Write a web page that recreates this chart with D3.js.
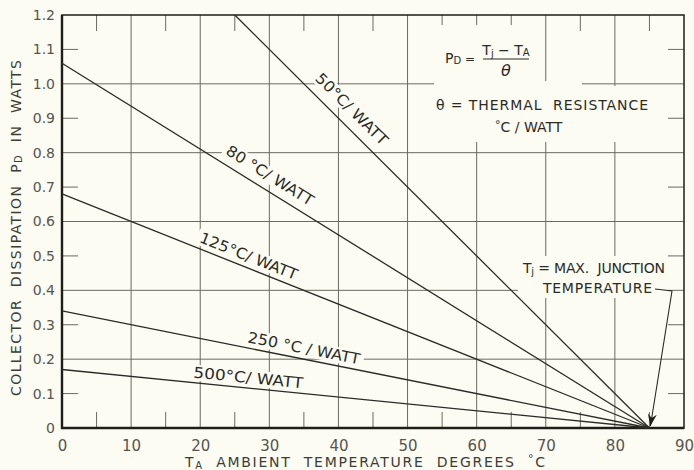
<!DOCTYPE html>
<html>
<head>
<meta charset="utf-8">
<script src="https://cdn.jsdelivr.net/npm/d3@7/dist/d3.min.js"></script>
<style>
  html, body { margin: 0; padding: 0; background: #fcfcf3; }
  svg { display: block; font-family: "DejaVu Sans", sans-serif; }
  svg text { white-space: pre; }
</style>
</head>
<body>
<script>
// Chart values
const ratings = ['50', '80', '125', '250', '500'];          // thermal resistance, °C / watt
const startTemp = [25, 0, 0, 0, 0];                           // Ta where each line enters the grid
const startPower = [1.2, 1.06, 0.68, 0.34, 0.17];             // Pd at that point, watts
const endTemp = [85, 85, 85, 85, 85];                         // max junction temperature
const endPower = [0, 0, 0, 0, 0];
const lineLabels = ['50°C/ WATT', '80 °C/ WATT', '125°C/ WATT', '250 °C / WATT', '500°C/ WATT'];

const xTicks = [0, 10, 20, 30, 40, 50, 60, 70, 80, 90];
const yTicks = [0, 0.1, 0.2, 0.3, 0.4, 0.5, 0.6, 0.7, 0.8, 0.9, 1.0, 1.1, 1.2];
const yTickLabels = ['0', '0.1', '0.2', '0.3', '0.4', '0.5', '0.6', '0.7', '0.8', '0.9', '1.0', '1.1', '1.2'];

// label placement along each line (layout only)
const labelAt = [40.3, 29.0, 26.4, 34.7, 26.8];
const labelOffset = [16, 14.5, 11.5, 11, 10.5];
const labelLength = [95, 100, 104, 114, 110];

const paper = '#fcfcf3';
const ink = '#2b2b25';
const gridInk = '#6a6a60';

const width = 694, height = 470;
const svg = d3.select('body').append('svg')
    .attr('width', width)
    .attr('height', height);

svg.append('rect').attr('width', width).attr('height', height).attr('fill', paper);

const x = d3.scaleLinear().domain([0, 90]).range([62, 684]);
const y = d3.scaleLinear().domain([0, 1.2]).range([428, 15]);

// grid: full lines at major values, short ticks at the in-between ones
const grid = svg.append('g').attr('stroke', gridInk).attr('stroke-width', 1);

grid.selectAll('.vgrid')
    .data(xTicks.filter(d => d > 0 && d < 90))
    .enter().append('line')
    .attr('x1', d => x(d)).attr('x2', d => x(d))
    .attr('y1', y(1.2)).attr('y2', y(0));

grid.selectAll('.hgrid')
    .data([0.2, 0.4, 0.6, 0.8, 1.0])
    .enter().append('line')
    .attr('x1', x(0)).attr('x2', x(90))
    .attr('y1', d => y(d)).attr('y2', d => y(d));

const halfX = xTicks.slice(0, -1).map(d => d + 5);
grid.selectAll('.xbot')
    .data(halfX)
    .enter().append('line')
    .attr('x1', d => x(d)).attr('x2', d => x(d))
    .attr('y1', y(0)).attr('y2', y(0) - 16);
grid.selectAll('.xtop')
    .data(halfX)
    .enter().append('line')
    .attr('x1', d => x(d)).attr('x2', d => x(d))
    .attr('y1', y(1.2)).attr('y2', y(1.2) + 16);

const oddY = [0.1, 0.3, 0.5, 0.7, 0.9, 1.1];
grid.selectAll('.yleft')
    .data(oddY)
    .enter().append('line')
    .attr('x1', x(0)).attr('x2', x(0) + 16)
    .attr('y1', d => y(d)).attr('y2', d => y(d));
grid.selectAll('.yright')
    .data(oddY)
    .enter().append('line')
    .attr('x1', x(90)).attr('x2', x(90) - 16)
    .attr('y1', d => y(d)).attr('y2', d => y(d));

// blank paper behind the lettering, as on the drawn chart
const blanks = svg.append('g').attr('fill', paper);
blanks.append('rect').attr('x', 434).attr('y', 25).attr('width', 110).attr('height', 62);
blanks.append('rect').attr('x', 430).attr('y', 86).attr('width', 232).attr('height', 56);
blanks.append('rect').attr('x', 544).attr('y', 81).attr('width', 38).attr('height', 6);
blanks.append('rect').attr('x', 518).attr('y', 256).attr('width', 150).attr('height', 42);

// frame
svg.append('rect')
    .attr('x', x(0)).attr('y', y(1.2))
    .attr('width', x(90) - x(0)).attr('height', y(0) - y(1.2))
    .attr('fill', 'none').attr('stroke', ink).attr('stroke-width', 1.6);
svg.append('path')
    .attr('d', `M${x(0)},${y(1.2)}V${y(0)}H${x(90)}`)
    .attr('fill', 'none').attr('stroke', '#1e1e1a').attr('stroke-width', 2.4);

// line labels with a paper patch behind them
const series = ratings.map((r, i) => ({
    rating: r,
    p0: [startTemp[i], startPower[i]],
    p1: [endTemp[i], endPower[i]],
    label: lineLabels[i],
    at: labelAt[i],
    offset: labelOffset[i],
    len: labelLength[i]
}));

series.forEach(s => {
    const dx = x(s.p1[0]) - x(s.p0[0]);
    const dy = y(s.p1[1]) - y(s.p0[1]);
    const angle = Math.atan2(dy, dx) * 180 / Math.PI;
    const t = (s.at - s.p0[0]) / (s.p1[0] - s.p0[0]);
    const pd = s.p0[1] + t * (s.p1[1] - s.p0[1]);

    const g = svg.append('g')
        .attr('transform', `translate(${x(s.at)},${y(pd)}) rotate(${angle})`);
    const text = g.append('text')
        .attr('x', 0).attr('y', -s.offset)
        .attr('dy', '0.36em')
        .attr('text-anchor', 'middle')
        .attr('font-size', 15)
        .attr('fill', ink)
        .attr('textLength', s.len)
        .attr('lengthAdjust', 'spacingAndGlyphs')
        .text(s.label);
    const bb = text.node().getBBox();
    g.insert('rect', 'text')
        .attr('x', bb.x - 3).attr('y', bb.y + 1)
        .attr('width', bb.width + 6).attr('height', bb.height - 2)
        .attr('fill', paper);
});

// the rating lines
svg.append('g')
    .selectAll('line')
    .data(series)
    .enter().append('line')
    .attr('x1', d => x(d.p0[0])).attr('y1', d => y(d.p0[1]))
    .attr('x2', d => x(d.p1[0])).attr('y2', d => y(d.p1[1]))
    .attr('stroke', ink)
    .attr('stroke-width', 1.3);

// tick labels
const xAxis = svg.append('g')
    .attr('transform', `translate(0,${y(0)})`)
    .call(d3.axisBottom(x).tickValues(xTicks).tickSize(0).tickPadding(12));
xAxis.select('.domain').remove();
xAxis.selectAll('text')
    .attr('font-family', '"DejaVu Sans", sans-serif')
    .attr('font-size', 15)
    .attr('fill', '#55554d');

const yAxis = svg.append('g')
    .attr('transform', `translate(${x(0)},0)`)
    .call(d3.axisLeft(y).tickValues(yTicks).tickFormat((d, i) => yTickLabels[i]).tickSize(0).tickPadding(7));
yAxis.select('.domain').remove();
yAxis.selectAll('text')
    .attr('font-family', '"DejaVu Sans", sans-serif')
    .attr('font-size', 14)
    .attr('fill', '#55554d');

// axis titles
const xTitle = svg.append('text')
    .attr('x', 185).attr('y', 467)
    .attr('font-size', 14)
    .attr('fill', '#3c3c36')
    .attr('textLength', 360)
    .attr('lengthAdjust', 'spacing');
xTitle.append('tspan').text('T');
xTitle.append('tspan').attr('font-size', 10).attr('dy', 2).text('A');
xTitle.append('tspan').attr('dy', -2).text('  AMBIENT  TEMPERATURE  DEGREES  ');
xTitle.append('tspan').attr('font-size', 11).attr('dy', -5).text('°');
xTitle.append('tspan').attr('dy', 5).text('C');

const yTitle = svg.append('text')
    .attr('transform', 'translate(21,228) rotate(-90)')
    .attr('x', -168).attr('y', 0)
    .attr('font-size', 14)
    .attr('fill', '#3c3c36')
    .attr('textLength', 336)
    .attr('lengthAdjust', 'spacing');
yTitle.append('tspan').text('COLLECTOR  DISSIPATION  P');
yTitle.append('tspan').attr('font-size', 10).attr('dy', 1).text('D');
yTitle.append('tspan').attr('dy', -1).text('  IN  WATTS');

// formula block
const formula = svg.append('g').attr('fill', ink).attr('font-size', 14);
const pd = formula.append('text').attr('x', 445).attr('y', 63);
pd.append('tspan').text('P');
pd.append('tspan').attr('font-size', 10).attr('dy', 1).text('D');
pd.append('tspan').attr('dy', -1).attr('font-size', 12).text(' =');

const num = formula.append('text').attr('x', 506).attr('y', 55).attr('text-anchor', 'middle');
num.append('tspan').text('T');
num.append('tspan').attr('font-size', 10).attr('dy', 2).text('j');
num.append('tspan').attr('dy', -2).text(' − T');
num.append('tspan').attr('font-size', 10).attr('dy', 1).text('A');

formula.append('line')
    .attr('x1', 483).attr('x2', 529).attr('y1', 59).attr('y2', 59)
    .attr('stroke', ink).attr('stroke-width', 1.2);
formula.append('text')
    .attr('x', 506).attr('y', 76)
    .attr('text-anchor', 'middle')
    .attr('font-size', 16).attr('font-style', 'italic')
    .text('θ');

formula.append('text')
    .attr('x', 436).attr('y', 110)
    .attr('textLength', 212).attr('lengthAdjust', 'spacing')
    .text('θ = THERMAL  RESISTANCE');
const unit = formula.append('text').attr('x', 495).attr('y', 132);
unit.append('tspan').attr('font-size', 11).attr('dy', -4).text('°');
unit.append('tspan').attr('dy', 4).text('C / WATT');

// junction temperature note and arrow
const note = svg.append('g').attr('fill', ink).attr('font-size', 14);
const tj = note.append('text').attr('x', 523).attr('y', 273)
    .attr('textLength', 142).attr('lengthAdjust', 'spacing');
tj.append('tspan').text('T');
tj.append('tspan').attr('font-size', 10).attr('dy', 2).text('j');
tj.append('tspan').attr('dy', -2).text(' = MAX.  JUNCTION');
note.append('text').attr('x', 543).attr('y', 293)
    .attr('textLength', 109).attr('lengthAdjust', 'spacing')
    .text('TEMPERATURE');

const tipX = x(85) + 1, tipY = y(0) - 2;
svg.append('path')
    .attr('d', `M655,289L672,291L${tipX},${tipY}`)
    .attr('fill', 'none').attr('stroke', ink).attr('stroke-width', 1.1);
const ang = Math.atan2(tipY - 291, tipX - 672);
const head = [[0, 0], [-12, -4.5], [-8, 0], [-12, 4.5]].map(([a, b]) => [
    tipX + a * Math.cos(ang) - b * Math.sin(ang),
    tipY + a * Math.sin(ang) + b * Math.cos(ang)
]);
svg.append('path')
    .attr('d', 'M' + head.join('L') + 'Z')
    .attr('fill', '#1e1e1a');
</script>
</body>
</html>
